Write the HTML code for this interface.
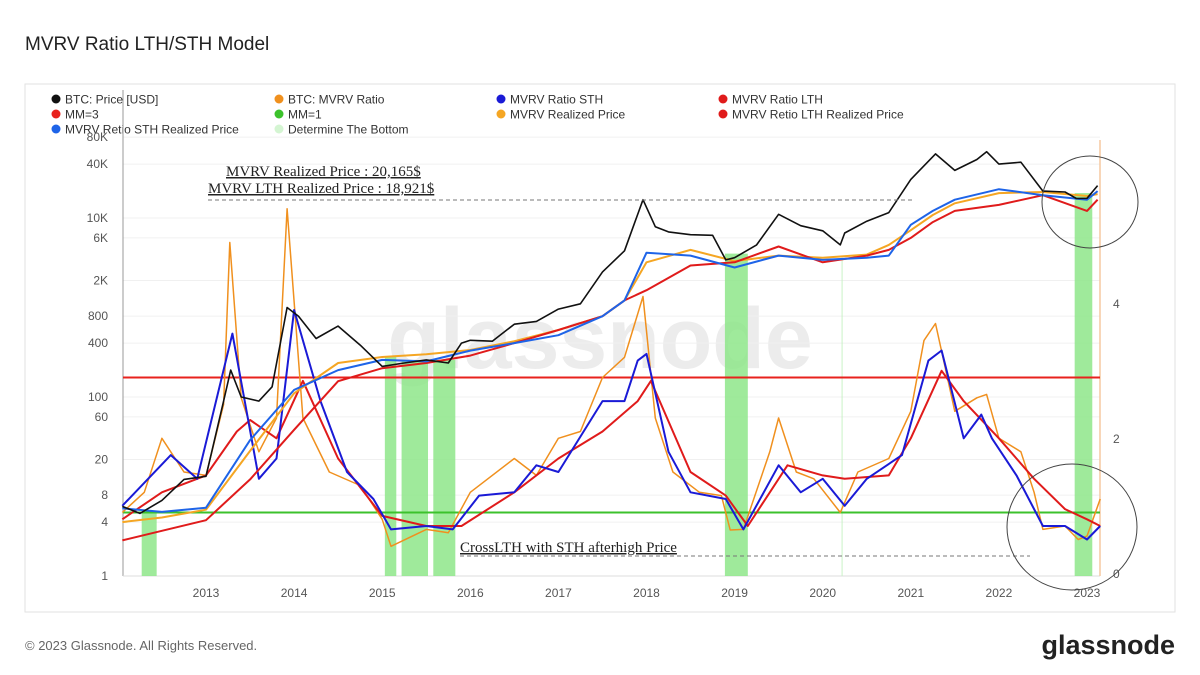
<!DOCTYPE html>
<html><head><meta charset="utf-8"><style>
body{margin:0;background:#fff;font-family:"Liberation Sans",sans-serif;}
#wrap{position:relative;width:1200px;height:675px;overflow:hidden;background:#fff}
</style></head><body>
<div id="wrap">
<svg id="svg" width="1200" height="675">
<text x="25" y="50" font-size="19" fill="#222">MVRV Ratio LTH/STH Model</text>
<rect x="25" y="84" width="1150" height="528" fill="none" stroke="#e2e2e2"/>
<text x="25" y="650" font-size="13" fill="#666">© 2023 Glassnode. All Rights Reserved.</text>
<text x="1175" y="654" font-size="27" font-weight="bold" fill="#222" text-anchor="end">glassnode</text>
<text x="600" y="368" font-size="86" font-weight="bold" fill="#ececec" text-anchor="middle">glassnode</text>
<g id="legend"></g>
<g id="plot"></g>
</svg>
</div>
<script>
const years=[2013,2014,2015,2016,2017,2018,2019,2020,2021,2022,2023];
const leftTicks=[1,4,8,20,60,100,400,800,2000,6000,10000,40000,80000];
const leftTickLabels=["1","4","8","20","60","100","400","800","2K","6K","10K","40K","80K"];
const rightTicks=[0,2,4];
const priceT=[2012.05,2012.25,2012.5,2012.75,2013.0,2013.2,2013.28,2013.4,2013.6,2013.75,2013.92,2014.05,2014.25,2014.5,2014.75,2015.0,2015.25,2015.5,2015.75,2015.9,2016.0,2016.25,2016.5,2016.75,2017.0,2017.25,2017.5,2017.75,2017.96,2018.1,2018.25,2018.5,2018.75,2018.9,2019.0,2019.25,2019.5,2019.75,2020.0,2020.2,2020.25,2020.5,2020.75,2021.0,2021.28,2021.5,2021.75,2021.86,2022.0,2022.25,2022.5,2022.75,2022.88,2023.0,2023.12];
const priceV=[6,5,7,12,13,90,200,100,90,130,1000,800,450,620,380,220,240,260,240,400,430,420,650,700,960,1100,2500,4300,16000,8000,7000,6500,6400,3400,3600,5000,11000,8200,7200,5000,6800,9200,11500,27000,52000,34000,45000,55000,40000,42000,20000,19500,16500,16600,23000];
const rpT=[2012.05,2012.5,2013.0,2013.5,2014.0,2014.5,2015.0,2015.5,2016.0,2016.5,2017.0,2017.5,2017.75,2018.0,2018.5,2019.0,2019.5,2020.0,2020.5,2020.75,2021.0,2021.25,2021.5,2022.0,2022.5,2023.0,2023.12];
const realizedV=[4,4.5,5.5,25,110,240,280,300,335,420,560,800,1200,3200,4400,3300,3800,3600,3900,5000,7300,10800,14600,19000,19500,17600,18500];
const lthRealizedV=[2.5,3.2,4.2,12,43,150,210,240,290,400,560,800,1200,1560,2950,3200,4800,3200,3800,4400,6000,9000,12000,14000,18000,12000,16000];
const sthRealizedV=[5.7,5.2,5.8,33,120,200,260,250,330,400,490,800,1200,4100,3800,2800,3800,3400,3600,3800,8400,12000,16000,21000,18000,16000,20000];
const mvT=[2012.05,2012.3,2012.5,2012.75,2013.0,2013.2,2013.27,2013.4,2013.6,2013.8,2013.92,2014.1,2014.4,2014.75,2015.0,2015.1,2015.5,2015.75,2016.0,2016.5,2016.75,2017.0,2017.25,2017.5,2017.75,2017.96,2018.1,2018.3,2018.6,2018.85,2018.95,2019.1,2019.4,2019.5,2019.7,2019.9,2020.2,2020.4,2020.75,2021.0,2021.15,2021.28,2021.5,2021.75,2021.86,2022.0,2022.25,2022.4,2022.5,2022.75,2022.9,2023.0,2023.15];
const mvrvV=[1.0,1.3,2.1,1.6,1.55,2.6,5.0,2.7,1.9,2.4,5.5,2.4,1.6,1.4,0.9,0.5,0.75,0.7,1.3,1.8,1.55,2.1,2.2,3.0,3.3,4.2,2.4,1.6,1.3,1.25,0.74,0.75,1.9,2.4,1.6,1.5,1.0,1.6,1.8,2.5,3.55,3.8,2.5,2.7,2.75,2.1,1.9,1.3,0.75,0.8,0.6,0.65,1.2];
const sthT=[2012.05,2012.6,2012.9,2013.3,2013.6,2013.8,2014.0,2014.3,2014.6,2014.9,2015.1,2015.5,2015.8,2016.1,2016.5,2016.75,2017.0,2017.5,2017.75,2017.9,2018.0,2018.25,2018.5,2018.9,2019.1,2019.5,2019.75,2020.0,2020.25,2020.5,2020.9,2021.2,2021.35,2021.6,2021.8,2021.92,2022.2,2022.5,2022.75,2023.0,2023.15];
const sthV=[1.1,1.85,1.5,3.65,1.5,1.8,4.0,2.65,1.6,1.2,0.75,0.8,0.75,1.25,1.3,1.7,1.6,2.65,2.65,3.25,3.35,1.9,1.3,1.2,0.75,1.7,1.3,1.5,1.1,1.5,1.85,3.25,3.4,2.1,2.45,2.1,1.55,0.8,0.8,0.6,0.8];
const lthT=[2012.05,2012.5,2013.0,2013.35,2013.5,2013.8,2014.1,2014.5,2015.0,2015.5,2015.9,2016.5,2017.0,2017.5,2017.9,2018.05,2018.5,2018.9,2019.15,2019.6,2020.0,2020.25,2020.75,2021.0,2021.35,2021.6,2022.0,2022.4,2022.75,2023.0,2023.15];
const lthV=[0.9,1.3,1.55,2.2,2.37,2.1,2.95,1.8,0.95,0.8,0.8,1.3,1.8,2.2,2.65,2.95,1.6,1.25,0.8,1.7,1.55,1.5,1.55,2.1,3.1,2.65,2.1,1.5,1.05,0.9,0.8];
const bandStart=[2012.27,2015.03,2015.22,2015.58,2018.89,2022.86];
const bandEnd=[2012.44,2015.16,2015.52,2015.83,2019.15,2023.06];
const bandTopV=[5,280,250,260,4000,19000];

const NS="http://www.w3.org/2000/svg";
const plot=document.getElementById('plot');
const legend=document.getElementById('legend');
const X0=123,X1=1100,YT=140,YB=576;
const xS=t=>206+(t-2013)*88.1;
const yL=v=>576-89.5*Math.log10(v);
const yR=v=>580-67.5*v;
function mk(tag,attrs,parent){const e=document.createElementNS(NS,tag);for(const k in attrs)e.setAttribute(k,attrs[k]);(parent||plot).appendChild(e);return e;}

leftTicks.forEach((v,i)=>{
 const g=mk('line',{x1:X0,x2:X1,y1:yL(v),y2:yL(v),stroke:'#f0f0f0'});
 
 
 const t=mk('text',{x:108,y:yL(v)+4,'font-size':12,fill:'#555','text-anchor':'end'});
 t.textContent=leftTickLabels[i];
 
 
});
rightTicks.forEach(v=>{
 const t=mk('text',{x:1113,y:yR(v)-2,'font-size':12,fill:'#555'});
 t.textContent=v;
 
 
});
years.forEach(y=>{
 const t=mk('text',{x:xS(y),y:597,'font-size':12,fill:'#555','text-anchor':'middle'});
 t.textContent=y;
 
 
});
const ax=mk('line',{x1:X0,x2:X0,y1:YT-50,y2:YB,stroke:'#999'});


const ax2=mk('line',{x1:X0,x2:X1,y1:YB,y2:YB,stroke:'#ddd'});


const vl=mk('line',{x1:X1,x2:X1,y1:YT,y2:YB,stroke:'#f5c9a0','stroke-width':1.5});



bandStart.forEach((s,i)=>{
 const r=mk('rect',{x:xS(s),y:yL(bandTopV[i]),width:xS(bandEnd[i])-xS(s),height:YB-yL(bandTopV[i]),fill:'#8ee68a',opacity:0.85});
 
 
});
const thin=mk('line',{x1:xS(2020.22),x2:xS(2020.22),y1:yL(3600),y2:YB,stroke:'#c9f2c6'});



const mm3=mk('line',{x1:X0,x2:X1,y1:yR(3),y2:yR(3),stroke:'#e8221d','stroke-width':2});


const mm1=mk('line',{x1:X0,x2:X1,y1:yR(1),y2:yR(1),stroke:'#3cc22c','stroke-width':2});



function series(T,V,ys,color,w,name){
 const d=T.map((t,i)=>(i?'L':'M')+xS(t).toFixed(1)+','+ys(V[i]).toFixed(1)).join('');
 const p=mk('path',{d:d,fill:'none',stroke:color,'stroke-width':w,'stroke-linejoin':'round'});
 
 
}
series(mvT,mvrvV,yR,'#f0901e',1.5,'mvrv-ratio-line');
series(lthT,lthV,yR,'#e01b1b',2,'lth-ratio-line');
series(sthT,sthV,yR,'#1a1ad6',2,'sth-ratio-line');
series(rpT,realizedV,yL,'#f5a623',2,'realized-price-line');
series(rpT,lthRealizedV,yL,'#e01b1b',2,'lth-realized-price-line');
series(rpT,sthRealizedV,yL,'#1e64e8',2,'sth-realized-price-line');
series(priceT,priceV,yL,'#111',1.6,'btc-price-line');

function txt(x,y,s,name,size){const t=mk('text',{x:x,y:y,'font-size':size||15,fill:'#222','font-family':'"Liberation Serif",serif','text-decoration':'underline'});t.textContent=s;}
txt(226,176,'MVRV Realized Price : 20,165$','annotation-realized-price');
txt(208,193,'MVRV LTH Realized Price : 18,921$','annotation-lth-realized-price');
txt(460,552,'CrossLTH with STH afterhigh Price','annotation-cross');
const d1=mk('line',{x1:208,x2:915,y1:200,y2:200,stroke:'#777','stroke-dasharray':'4,3'});


const d2=mk('line',{x1:460,x2:1030,y1:556,y2:556,stroke:'#777','stroke-dasharray':'4,3'});


const c1=mk('ellipse',{cx:1090,cy:202,rx:48,ry:46,fill:'none',stroke:'#444'});


const c2=mk('ellipse',{cx:1072,cy:527,rx:65,ry:63,fill:'none',stroke:'#444'});



const legNames=["BTC: Price [USD]","BTC: MVRV Ratio","MVRV Ratio STH","MVRV Ratio LTH","MM=3","MM=1","MVRV Realized Price","MVRV Retio LTH Realized Price","MVRV Retio STH Realized Price","Determine The Bottom"];
const legColors=["#111","#f0901e","#1a1ad6","#e01b1b","#e8221d","#3cc22c","#f5a623","#e01b1b","#1e64e8","#d4f5d2"];
const colX=[52,275,497,719];
legNames.forEach((n,i)=>{
 const g=mk('g',{},legend);
 
 
 const x=colX[i%4],y=99+15*Math.floor(i/4);
 mk('circle',{cx:x+4,cy:y,r:4.5,fill:legColors[i]},g);
 const t=mk('text',{x:x+13,y:y+4.5,'font-size':12,fill:'#333'},g);
 t.textContent=n;
});
</script>
</body></html>
